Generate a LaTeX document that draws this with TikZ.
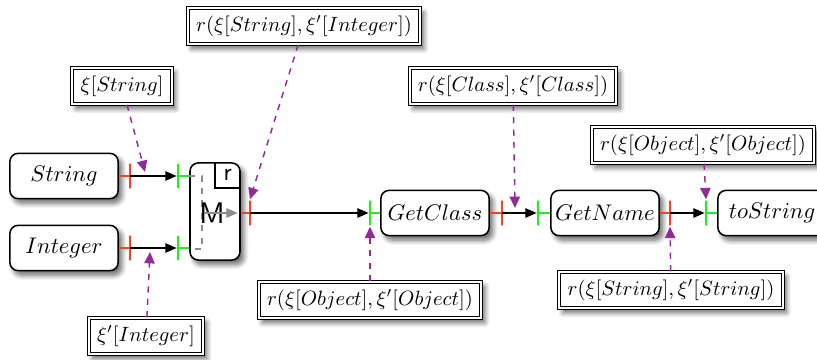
\documentclass[tikz,border=0pt]{standalone}
\usetikzlibrary{positioning,arrows.meta,shadows.blur}
\definecolor{portred}{HTML}{FF3D1F}
\definecolor{portgreen}{HTML}{1FEE1F}
\definecolor{notepurple}{HTML}{932A98}
\definecolor{innergray}{HTML}{8C8C8C}
\tikzset{
  box shadow/.style={blur shadow={shadow blur steps=8, shadow xshift=1.8pt,
    shadow yshift=-2.2pt, shadow blur radius=2.4pt, shadow opacity=60}},
  comp/.style={rounded corners=4pt, draw, fill=white, line width=0.75pt,
    minimum width=1.84cm, minimum height=0.77cm, inner sep=0pt,
    font=\fontsize{11}{13}\selectfont, box shadow},
  mbox/.style={rounded corners=4pt, draw, fill=white, line width=0.75pt,
    minimum width=0.85cm, minimum height=1.65cm, inner sep=0pt, box shadow},
  lbl/.style={draw, double, double distance=1pt, line width=0.5pt, fill=white,
    inner xsep=4pt, inner ysep=3.8pt, font=\normalsize, box shadow},
  outport/.style={draw=portred, line width=1.3pt, minimum width=0pt,
    minimum height=0.42cm, inner sep=0pt},
  inport/.style={outport, draw=portgreen},
  flow/.style={-{Triangle[length=5.5pt,width=4.6pt]}, line width=0.6pt},
  note/.style={-{Triangle[length=5.5pt,width=5pt]}, dashed, line width=0.7pt,
    color=notepurple},
}
\begin{document}
\begin{tikzpicture}[x=0.017cm,y=-0.017cm]
  \useasboundingbox (0,0) rectangle (817,360);
  % components
  \node[comp] (str) at (64,176) {$String$};
  \node[comp] (int) at (64,248) {$Integer$};
  \node[mbox] (m) at (215,211.5) {};
  \node[minimum size=0.425cm, inner sep=0pt, anchor=north east,
    font=\sffamily\large] (r) at (m.north east) {r};
  \draw[line width=0.6pt] (r.north west) |- (r.south east);
  \node[comp] (gc) at (435,213) {$GetClass$};
  \node[comp] (gn) at (605,213) {$GetName$};
  \node[comp] (ts) at (772,213) {$toString$};
  % ports
  \node[outport] (str-o) at (130,176) {};
  \node[outport] (int-o) at (130,248) {};
  \node[inport] (m-i1) at (178,176) {};
  \node[inport] (m-i2) at (178,248) {};
  \node[outport] (m-o) at (250,213) {};
  \node[inport] (gc-i) at (370,213) {};
  \node[outport] (gc-o) at (502,213) {};
  \node[inport] (gn-i) at (538,213) {};
  \node[outport] (gn-o) at (670,213) {};
  \node[inport] (ts-i) at (706,213) {};
  % stubs
  \foreach \c/\p in {str/str-o,int/int-o,m/m-o,gc/gc-o,gn/gn-o}
    \draw[portred, line width=1.2pt] (\c.east |- \p) -- (\p.center);
  \foreach \c/\p in {m/m-i1,m/m-i2,gc/gc-i,gn/gn-i,ts/ts-i}
    \draw[portgreen, line width=1.2pt] (\p.center) -- (\c.west |- \p);
  % inside M
  \coordinate (m-a) at (202,176);
  \coordinate (m-b) at (202,249);
  \coordinate (m-c) at (204,213);
  \draw[innergray, dashed, line width=0.5pt] (m.west |- m-a) -- (m-a) -- (m-b) -- (m.west |- m-b);
  \node[font=\sffamily\Large, inner sep=0pt] (mlab) at (212,213) {M};
  \draw[innergray, -{Triangle[length=5.5pt,width=4.6pt]}, line width=0.6pt]
    (m-c) -- ([xshift=-1.5pt]m.east |- m-c);
  % flows
  \draw[flow] (str-o.center) -- (m-i1);
  \draw[flow] (int-o.center) -- (m-i2);
  \draw[flow] (m-o.center) -- (gc-i);
  \draw[flow] (gc-o.center) -- (gn-i);
  \draw[flow] (gn-o.center) -- (ts-i);
  % annotations
  \node[lbl] (l-s) at (122,86) {$\xi[String]$};
  \node[lbl] (l-i) at (146,336) {$\xi'[Integer]$};
  \node[lbl] (l-si) at (304,26) {$r(\xi[String],\xi'[Integer])$};
  \node[lbl] (l-oo1) at (370,300) {$r(\xi[Object],\xi'[Object])$};
  \node[lbl] (l-cc) at (513,86) {$r(\xi[Class],\xi'[Class])$};
  \node[lbl] (l-oo2) at (703,145) {$r(\xi[Object],\xi'[Object])$};
  \node[lbl] (l-ss) at (671,290) {$r(\xi[String],\xi'[String])$};
  \coordinate (s-tap) at (145,172);
  \coordinate (i-tap) at (150,252);
  \coordinate (c-tap) at (515,208);
  \draw[note] (l-s) -- (s-tap);
  \draw[note] (l-i) -- (i-tap);
  \draw[note] (l-si) -- (m-o.north);
  \draw[note] (l-oo1) -- (gc-i.south);
  \draw[note] (l-cc) -- (c-tap);
  \draw[note] (l-oo2) -- (ts-i.north);
  \draw[note] (l-ss) -- (gn-o.south);
\end{tikzpicture}
\end{document}
